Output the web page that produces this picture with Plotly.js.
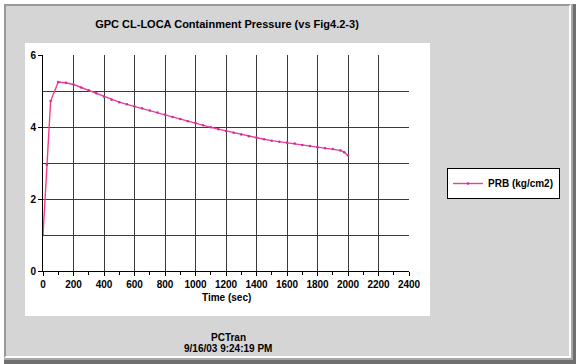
<!DOCTYPE html>
<html>
<head>
<meta charset="utf-8">
<script src="https://cdn.plot.ly/plotly-3.0.1.min.js"></script>
<style>
  html, body { margin: 0; padding: 0; background: #ffffff; }
  #wrap { position: relative; width: 576px; height: 364px; overflow: hidden; background: #ffffff; }
  #shadow { position: absolute; left: 4px; top: 4px; width: 572px; height: 360px; background: #6f6f6f; }
  #face { position: absolute; left: 4px; top: 4px; width: 567px; height: 354px; box-sizing: border-box;
          background: #d5d5d5; border-left: 2px solid #9a9a9a; border-top: 2px solid #9a9a9a;
          border-right: 2px solid #ffffff; border-bottom: 2px solid #ffffff; }
  #edge { position: absolute; left: 4px; top: 4px; width: 569px; height: 356px; box-sizing: border-box;
          border-right: 2px solid #a8a8a8; border-bottom: 2px solid #a8a8a8; }
  #chart { position: absolute; left: 0; top: 0; width: 576px; height: 364px; }
</style>
</head>
<body>
<div id="wrap">
  <div id="shadow"></div>
  <div id="edge"></div>
  <div id="face"></div>
  <div id="chart"></div>
</div>
<script>
// Time (sec)
var timeSec = [0, 25, 50, 100, 150, 200, 250, 300, 350, 400, 450, 500, 550, 600, 650, 700, 750, 800,
  850, 900, 950, 1000, 1050, 1100, 1150, 1200, 1250, 1300, 1350, 1400, 1450, 1500, 1550, 1600,
  1650, 1700, 1750, 1800, 1850, 1900, 1950, 1975, 2000];
// PRB (kg/cm2)
var prb = [1.00, 2.95, 4.72, 5.25, 5.23, 5.18, 5.10, 5.02, 4.94, 4.84, 4.76, 4.69, 4.63, 4.57, 4.52, 4.46, 4.40, 4.35,
  4.28, 4.22, 4.16, 4.11, 4.05, 3.99, 3.94, 3.89, 3.84, 3.79, 3.74, 3.70, 3.66, 3.62, 3.59, 3.57,
  3.54, 3.50, 3.47, 3.44, 3.41, 3.39, 3.35, 3.30, 3.21];

var seriesName = "PRB (kg/cm2)";
var chartTitle = "GPC CL-LOCA Containment Pressure (vs Fig4.2-3)";
var xTitle = "Time (sec)";
var footer1 = "PCTran";
var footer2 = "9/16/03 9:24:19 PM";

var W = 576, H = 364;
var L = 43, R = 409, T = 55, B = 271;
var pw = R - L, ph = B - T;
function px(x) { return (x - L) / pw; }
function py(y) { return (B - y) / ph; }

var fnt = "Arial, 'Liberation Sans', sans-serif";

var trace = {
  x: timeSec, y: prb, name: seriesName, type: "scatter", mode: "lines+markers",
  line: { color: "#f53c85", width: 1.4 },
  marker: { color: "#c030b0", size: 2.5, symbol: "circle" },
  showlegend: true
};

var layout = {
  width: W, height: H,
  margin: { l: L, r: W - R, t: T, b: H - B, pad: 0 },
  paper_bgcolor: "rgba(0,0,0,0)",
  plot_bgcolor: "#ffffff",
  showlegend: true,
  title: { text: chartTitle, x: px(227), xref: "paper", xanchor: "center",
           y: 1 - 24 / H, yref: "container", yanchor: "middle",
           font: { family: fnt, size: 11, color: "#000000", weight: "bold" } },
  xaxis: {
    range: [0, 2400], dtick: 200, tick0: 0, autorange: false,
    showgrid: true, gridcolor: "#3a3a3a", gridwidth: 1,
    zeroline: false, showline: true, linecolor: "#000000", linewidth: 1,
    ticks: "outside", ticklen: 4, tickcolor: "#000000",
    minor: { dtick: 100, tick0: 0, ticks: "outside", ticklen: 3, tickcolor: "#000000", tickwidth: 1, showgrid: false },
    tickfont: { family: fnt, size: 10, color: "#000000", weight: "bold" },
    fixedrange: true
  },
  yaxis: {
    range: [0, 6], dtick: 2, tick0: 0, autorange: false,
    showgrid: true, gridcolor: "#3a3a3a", gridwidth: 1,
    zeroline: false, showline: true, linecolor: "#000000", linewidth: 1,
    ticks: "outside", ticklen: 4, tickcolor: "#000000",
    minor: { dtick: 1, ticks: "", showgrid: true, gridcolor: "#3a3a3a", gridwidth: 1 },
    tickfont: { family: fnt, size: 10, color: "#000000", weight: "bold" },
    fixedrange: true
  },
  legend: {
    x: px(447), xanchor: "left", y: py(168), yanchor: "top",
    bgcolor: "#ffffff", bordercolor: "#000000", borderwidth: 1,
    font: { family: fnt, size: 10, color: "#000000", weight: "bold" },
    tracegroupgap: 0, itemwidth: 30
  },
  shapes: [
    { type: "rect", xref: "paper", yref: "paper", layer: "below",
      x0: px(25), x1: px(430), y0: py(316), y1: py(43),
      fillcolor: "#ffffff", line: { width: 0 } }
  ],
  annotations: [
    { text: xTitle, xref: "paper", yref: "paper", x: px(226), y: py(297), showarrow: false,
      xanchor: "center", yanchor: "middle", font: { family: fnt, size: 10, color: "#000000", weight: "bold" } },
    { text: footer1, xref: "paper", yref: "paper", x: px(228), y: py(337), showarrow: false,
      xanchor: "center", yanchor: "middle", font: { family: fnt, size: 10, color: "#000000", weight: "bold" } },
    { text: footer2, xref: "paper", yref: "paper", x: px(228), y: py(348), showarrow: false,
      xanchor: "center", yanchor: "middle", font: { family: fnt, size: 10, color: "#000000", weight: "bold" } }
  ]
};

Plotly.newPlot("chart", [trace], layout, { staticPlot: true, displayModeBar: false });
</script>
</body>
</html>
